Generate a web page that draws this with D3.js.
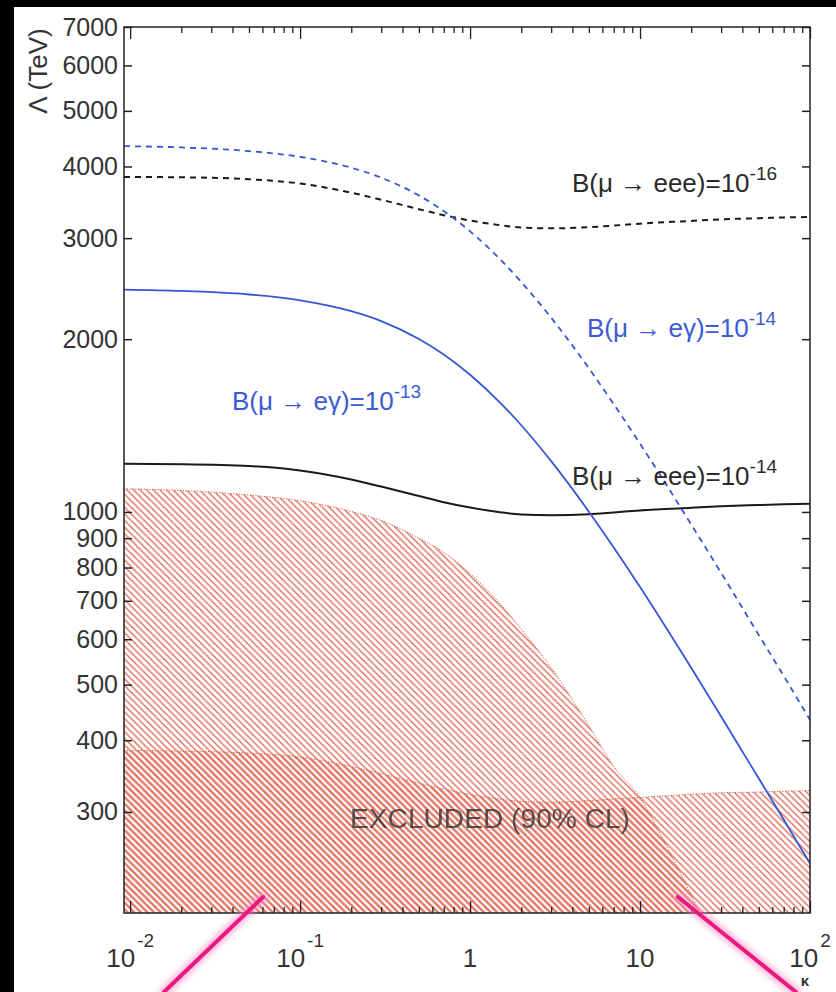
<!DOCTYPE html>
<html>
<head>
<meta charset="utf-8">
<script src="https://cdn.jsdelivr.net/npm/d3@7"></script>
<style>
  html, body { margin: 0; padding: 0; background: #000; }
  svg { display: block; }
  text { font-family: "Liberation Sans", Arial, Helvetica, sans-serif; }
</style>
</head>
<body>
<svg id="chart" width="836" height="992"></svg>
<script>
// κ grid shared by the four sensitivity curves and the μ→eee exclusion edge
const kappa = [0.0092, 0.02, 0.05, 0.1, 0.2, 0.3, 0.5, 0.7, 1, 1.5, 2, 3, 5, 7, 10, 20, 30, 50, 70, 100];

// Λ (TeV) reach for each branching-ratio target
const megDashed = [4340, 4317, 4254, 4157, 3980, 3824, 3560, 3344, 3083, 2758, 2517, 2180, 1780, 1541, 1315, 951, 783, 610, 518, 434];   // B(μ→eγ)=1e-14
const megSolid  = [2441, 2428, 2393, 2338, 2238, 2151, 2002, 1881, 1734, 1551, 1416, 1226, 1001, 867, 740, 535, 440, 343, 291, 244];    // B(μ→eγ)=1e-13
const eeeDashed = [3835, 3830, 3800, 3735, 3600, 3500, 3370, 3290, 3220, 3160, 3130, 3120, 3135, 3155, 3180, 3215, 3235, 3250, 3260, 3265]; // B(μ→eee)=1e-16
const eeeSolid  = [1213, 1211, 1202, 1181, 1139, 1107, 1066, 1040, 1018, 999, 990, 987, 991, 998, 1006, 1017, 1023, 1028, 1031, 1033];  // B(μ→eee)=1e-14

// 90% CL excluded regions
const exclMegKappa = [0.0092, 0.02, 0.05, 0.1, 0.2, 0.3, 0.5, 0.7, 1, 1.5, 2, 3, 5, 7, 10, 15, 22.5];
const exclMeg      = [1097, 1090, 1070, 1046, 1002, 966, 900, 850, 781, 692, 625, 535, 424, 360, 318, 255, 200];
const exclEee      = [384, 383, 380, 374, 360, 350, 337, 329, 322, 316, 313, 312, 314, 316, 318, 322, 324, 325, 326, 327];

// axis ticks and labels
const yTicks = [300, 400, 500, 600, 700, 800, 900, 1000, 2000, 3000, 4000, 5000, 6000, 7000];
const xMajor = [0.01, 0.1, 1, 10, 100];
const xLabelBase = ["10", "10", "1", "10", "10"];
const xLabelExp  = ["-2", "-1", "", "", "2"];

const curveLabels = [
  { base: "B(μ → eee)=10", exp: "-16", color: "#2a2a2a", x: 572, y: 192 },
  { base: "B(μ → eγ)=10",  exp: "-14", color: "#3b5bd6", x: 587, y: 337 },
  { base: "B(μ → eγ)=10",  exp: "-13", color: "#3b5bd6", x: 232, y: 410 },
  { base: "B(μ → eee)=10", exp: "-14", color: "#2a2a2a", x: 572, y: 485 }
];

const svg = d3.select("#chart");
const L = 124, R = 810, T = 27, B = 913;

const x = d3.scaleLog().domain([0.0092, 100]).range([L, R]);
const y = d3.scaleLog().domain([200, 7000]).range([B, T]);

// page background
svg.append("rect").attr("x", 14).attr("y", 7).attr("width", 822).attr("height", 985).attr("fill", "#fff");

const defs = svg.append("defs");
defs.append("clipPath").attr("id", "plotClip")
  .append("rect").attr("x", L).attr("y", T).attr("width", R - L).attr("height", B - T);

// diagonal hatch running from upper left to lower right
function hatch(id, offset, color) {
  const s = 6.6;
  const p = defs.append("pattern").attr("id", id)
    .attr("patternUnits", "userSpaceOnUse")
    .attr("width", s).attr("height", s)
    .attr("patternTransform", `translate(${offset},0)`);
  [[-1, -1, s + 1, s + 1], [-1, s - 1, 1, s + 1], [s - 1, -1, s + 1, 1]].forEach(c => {
    p.append("line").attr("x1", c[0]).attr("y1", c[1]).attr("x2", c[2]).attr("y2", c[3])
      .attr("stroke", color).attr("stroke-width", 1.45);
  });
}
hatch("hatchMeg", 0, "#de6e5c");
hatch("hatchEee", 1.3, "#de6e5c");

const glow = defs.append("filter").attr("id", "glow").attr("x", "-20%").attr("y", "-20%").attr("width", "140%").attr("height", "140%");
glow.append("feGaussianBlur").attr("stdDeviation", 2.5);

const plot = svg.append("g").attr("clip-path", "url(#plotClip)");

// excluded regions
const areaGen = d3.area()
  .x(d => x(d[0])).y0(y(200)).y1(d => y(d[1]))
  .curve(d3.curveMonotoneX);
const edgeGen = d3.line().x(d => x(d[0])).y(d => y(d[1])).curve(d3.curveMonotoneX);

const megRegion = exclMegKappa.map((k, i) => [k, exclMeg[i]]);
const eeeRegion = kappa.map((k, i) => [k, exclEee[i]]);

plot.append("path").datum(megRegion).attr("d", areaGen).attr("fill", "url(#hatchMeg)");
plot.append("path").datum(eeeRegion).attr("d", areaGen).attr("fill", "url(#hatchEee)");
plot.append("path").datum(megRegion).attr("d", edgeGen).attr("fill", "none")
  .attr("stroke", "#d0553f").attr("stroke-width", 1).attr("stroke-dasharray", "1.2,1.6");
plot.append("path").datum(eeeRegion).attr("d", edgeGen).attr("fill", "none")
  .attr("stroke", "#d0553f").attr("stroke-width", 1).attr("stroke-dasharray", "1.2,1.6");

svg.append("text").attr("x", 490).attr("y", 828).attr("text-anchor", "middle")
  .attr("font-size", 27).attr("fill", "#3a3a3a").attr("opacity", 0.85)
  .attr("textLength", 280).attr("lengthAdjust", "spacingAndGlyphs")
  .text("EXCLUDED (90% CL)");

// sensitivity curves
const lineGen = d3.line().x(d => x(d[0])).y(d => y(d[1])).curve(d3.curveMonotoneX);
const series = [
  { v: eeeSolid,  color: "#1a1a1a", dash: null, w: 2 },
  { v: eeeDashed, color: "#1a1a1a", dash: "6,5", w: 2 },
  { v: megSolid,  color: "#3656d8", dash: null, w: 1.8 },
  { v: megDashed, color: "#3656d8", dash: "6,5", w: 1.8 }
];
series.forEach(s => {
  plot.append("path").datum(kappa.map((k, i) => [k, s.v[i]]))
    .attr("d", lineGen).attr("fill", "none")
    .attr("stroke", s.color).attr("stroke-width", s.w)
    .attr("stroke-dasharray", s.dash);
});

// frame
svg.append("rect").attr("x", L).attr("y", T).attr("width", R - L).attr("height", B - T)
  .attr("fill", "none").attr("stroke", "#222").attr("stroke-width", 1.5);

// y axes (ticks pointing inward on both sides)
const yAxisL = svg.append("g").attr("transform", `translate(${L},0)`)
  .call(d3.axisLeft(y).tickValues(yTicks).tickSize(-8).tickPadding(6).tickFormat(d3.format("d")));
const yAxisR = svg.append("g").attr("transform", `translate(${R},0)`)
  .call(d3.axisRight(y).tickValues(yTicks).tickSize(-8).tickFormat(""));
[yAxisL, yAxisR].forEach(g => {
  g.select(".domain").remove();
  g.selectAll(".tick line").attr("stroke", "#222").attr("stroke-width", 1.5);
});
yAxisL.selectAll(".tick text")
  .attr("font-family", "'Liberation Sans', Arial, sans-serif")
  .attr("font-size", 25).attr("fill", "#333");

// x axes with decade and minor ticks
const xAll = x.ticks().filter(v => v >= 0.00999 && v <= 100.01);
const isMajor = v => Math.abs(Math.log10(v) - Math.round(Math.log10(v))) < 1e-6;
const xAxisB = svg.append("g").attr("transform", `translate(0,${B})`)
  .call(d3.axisBottom(x).tickValues(xAll).tickSize(-12).tickFormat(""));
const xAxisT = svg.append("g").attr("transform", `translate(0,${T})`)
  .call(d3.axisTop(x).tickValues(xAll).tickSize(-12).tickFormat(""));
xAxisB.selectAll(".tick line").attr("y2", d => isMajor(d) ? -12 : -6);
xAxisT.selectAll(".tick line").attr("y2", d => isMajor(d) ? 12 : 6);
[xAxisB, xAxisT].forEach(g => {
  g.select(".domain").remove();
  g.selectAll(".tick line").attr("stroke", "#222").attr("stroke-width", 1.3);
});

const xl = svg.append("g");
xMajor.forEach((v, i) => {
  const t = xl.append("text").attr("x", x(v)).attr("y", 967)
    .attr("text-anchor", "middle").attr("font-size", 26).attr("fill", "#333");
  t.append("tspan").text(xLabelBase[i]);
  if (xLabelExp[i]) {
    t.append("tspan").attr("dy", -20).attr("dx", 2).attr("font-size", 19).text(xLabelExp[i]);
  }
});

svg.append("text").attr("x", 805).attr("y", 986).attr("text-anchor", "middle")
  .attr("font-size", 15).attr("font-weight", "bold").attr("fill", "#333").text("κ");

svg.append("text").attr("transform", "translate(47,71) rotate(-90)")
  .attr("text-anchor", "middle").attr("font-size", 26).attr("fill", "#333")
  .text("Λ (TeV)");

// curve annotations
curveLabels.forEach(c => {
  const t = svg.append("text").attr("x", c.x).attr("y", c.y)
    .attr("font-size", 26).attr("fill", c.color);
  t.append("tspan").text(c.base);
  t.append("tspan").attr("dy", -12).attr("font-size", 19).text(c.exp);
});

// highlight pointers
const pointers = [
  [[263, 897], [164, 992]],
  [[678, 897], [796, 992]]
];
pointers.forEach(p => {
  svg.append("line").attr("x1", p[0][0]).attr("y1", p[0][1]).attr("x2", p[1][0]).attr("y2", p[1][1])
    .attr("stroke", "#ff8cc8").attr("stroke-width", 11).attr("stroke-linecap", "round")
    .attr("opacity", 0.55).attr("filter", "url(#glow)");
  svg.append("line").attr("x1", p[0][0]).attr("y1", p[0][1]).attr("x2", p[1][0]).attr("y2", p[1][1])
    .attr("stroke", "#e8197f").attr("stroke-width", 4).attr("stroke-linecap", "round");
});
</script>
</body>
</html>
